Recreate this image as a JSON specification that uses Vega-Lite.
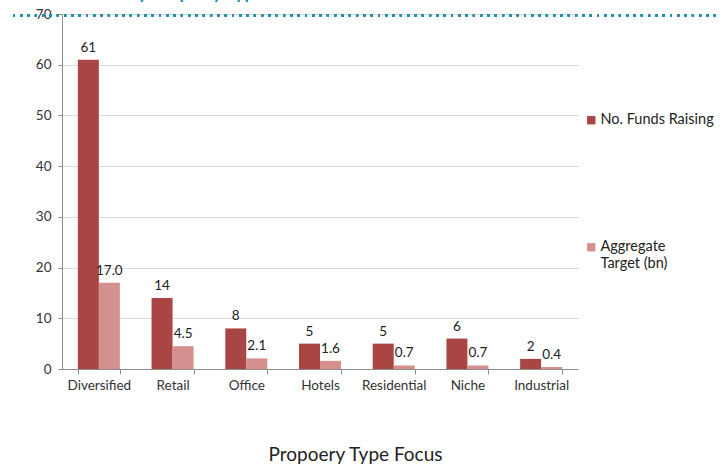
{
  "$schema": "https://vega.github.io/schema/vega-lite/v6.json",
  "autosize": "none",
  "width": 516,
  "height": 355,
  "padding": {"left": 62, "top": 14, "right": 150, "bottom": 97},
  "background": "white",
  "title": {
    "text": "Funds by Property Type",
    "anchor": "start",
    "frame": "group",
    "dx": 14,
    "offset": 4,
    "font": "Lato",
    "fontSize": 18,
    "fontWeight": "bold",
    "color": "#1f8fab"
  },
  "config": {
    "font": "Lato",
    "view": {"stroke": null},
    "axis": {"labelFont": "Lato", "titleFont": "Lato", "labelColor": "#333333", "titleColor": "#222222", "labelFontSize": 13.5, "domainColor": "#8c8c8c", "tickColor": "#8c8c8c"}
  },
  "data": {
    "values": [
      {"type": "Diversified", "series": "No. Funds Raising", "value": 61},
      {"type": "Diversified", "series": "Aggregate Target (bn)", "value": 17.0},
      {"type": "Retail", "series": "No. Funds Raising", "value": 14},
      {"type": "Retail", "series": "Aggregate Target (bn)", "value": 4.5},
      {"type": "Office", "series": "No. Funds Raising", "value": 8},
      {"type": "Office", "series": "Aggregate Target (bn)", "value": 2.1},
      {"type": "Hotels", "series": "No. Funds Raising", "value": 5},
      {"type": "Hotels", "series": "Aggregate Target (bn)", "value": 1.6},
      {"type": "Residential", "series": "No. Funds Raising", "value": 5},
      {"type": "Residential", "series": "Aggregate Target (bn)", "value": 0.7},
      {"type": "Niche", "series": "No. Funds Raising", "value": 6},
      {"type": "Niche", "series": "Aggregate Target (bn)", "value": 0.7},
      {"type": "Industrial", "series": "No. Funds Raising", "value": 2},
      {"type": "Industrial", "series": "Aggregate Target (bn)", "value": 0.4}
    ]
  },
  "layer": [
    {
      "layer": [
        {
          "mark": {"type": "bar"},
          "encoding": {
            "color": {
              "field": "series",
              "type": "nominal",
              "sort": ["No. Funds Raising", "Aggregate Target (bn)"],
              "scale": {"domain": ["No. Funds Raising", "Aggregate Target (bn)"], "range": ["#a94542", "#d4908e"]},
              "legend": {
                "title": null,
                "orient": "none",
                "legendX": 522,
                "legendY": 99,
                "symbolType": "square",
                "symbolSize": 70,
                "symbolStrokeWidth": 0,
                "labelFont": "Lato",
                "labelFontSize": 14.5,
                "labelColor": "#222222",
                "labelOffset": 2,
                "rowPadding": 112,
                "labelExpr": "datum.label == 'Aggregate Target (bn)' ? ['Aggregate', 'Target (bn)'] : datum.label"
              }
            }
          }
        },
        {
          "transform": [{"filter": "datum.series == 'No. Funds Raising'"}],
          "mark": {"type": "text", "dy": -12, "fontSize": 13.5, "color": "#222222", "font": "Lato"},
          "encoding": {"text": {"field": "value", "type": "quantitative", "format": "d"}}
        },
        {
          "transform": [{"filter": "datum.series == 'Aggregate Target (bn)'"}],
          "mark": {"type": "text", "dy": -12, "fontSize": 13.5, "color": "#222222", "font": "Lato"},
          "encoding": {"text": {"field": "value", "type": "quantitative", "format": ".1f"}}
        }
      ],
      "encoding": {
        "x": {
          "field": "type",
          "type": "nominal",
          "sort": null,
          "scale": {"paddingInner": 0.43, "paddingOuter": 0.215},
          "axis": {
            "title": "Propoery Type Focus",
            "titleFontSize": 19,
            "titleFontWeight": "normal",
            "titlePadding": 54,
            "titleX": 293,
            "titleAnchor": "middle",
            "labelAngle": 0,
            "labelPadding": 4,
            "tickBand": "extent",
            "tickSize": 5,
            "grid": false
          }
        },
        "xOffset": {"field": "series", "type": "nominal", "sort": ["No. Funds Raising", "Aggregate Target (bn)"]},
        "y": {
          "field": "value",
          "type": "quantitative",
          "scale": {"domain": [0, 70], "nice": false},
          "axis": {
            "title": null,
            "values": [0, 10, 20, 30, 40, 50, 60, 70],
            "gridColor": "#d9d9d9",
            "tickSize": 4,
            "labelPadding": 7
          }
        }
      }
    },
    {
      "mark": {"type": "rule", "color": "#1f8fab", "strokeWidth": 2, "strokeDash": [2, 5.3], "yOffset": 1.5, "clip": false},
      "encoding": {
        "x": {"datum": 0, "type": "quantitative", "scale": {"domain": [0, 1], "range": [-49, 654]}, "axis": null},
        "x2": {"datum": 1},
        "y": {"datum": 70, "type": "quantitative"}
      }
    }
  ],
  "resolve": {"scale": {"x": "independent"}, "axis": {"x": "independent"}}
}
